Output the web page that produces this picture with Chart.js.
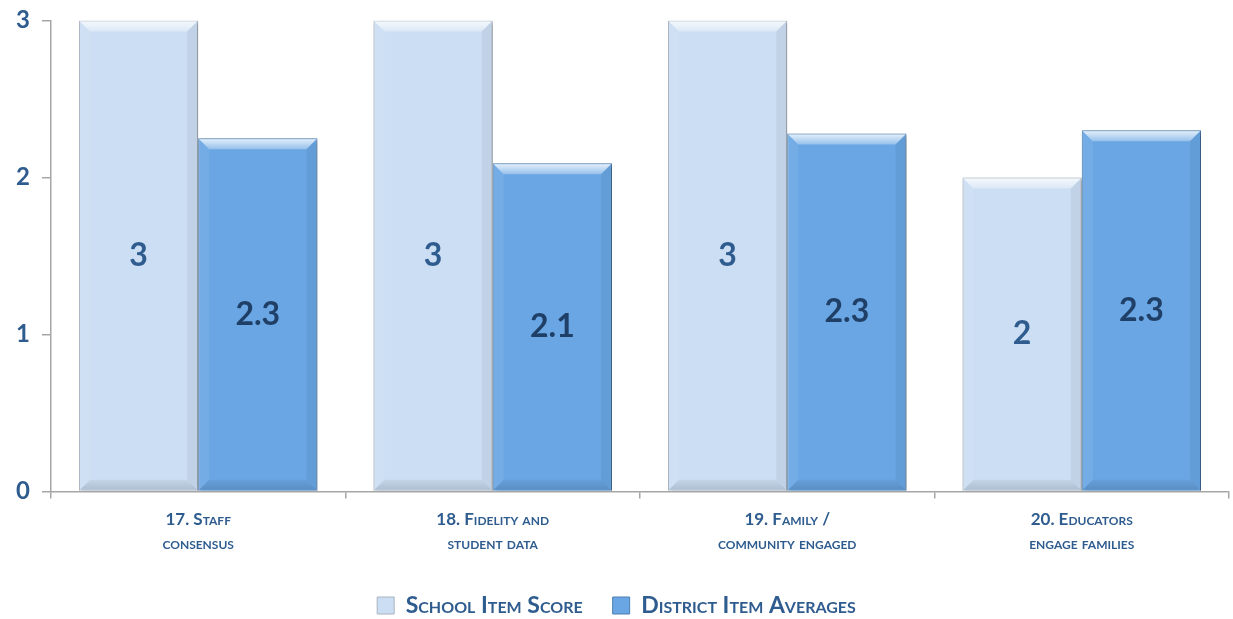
<html>
<head>
<style>
  body { margin: 0; background: #fff; }
  .chart-box { width: 1233px; height: 619px; }
</style>
</head>
<body>
<div class="chart-box">
  <canvas id="itemScores"></canvas>
</div>

<script src="https://cdn.jsdelivr.net/npm/chart.js"></script>
<script>
const categories = [
  ['17. Staff', 'consensus'],
  ['18. Fidelity and', 'student data'],
  ['19. Family /', 'community engaged'],
  ['20. Educators', 'engage families']
];
const schoolScores = [3, 3, 3, 2];
const districtAverages = [2.25, 2.09, 2.28, 2.3];
const yTicks = [0, 1, 2, 3];

const navy = '#2F5C8F';
const fontFamily = 'Lato, "Open Sans", sans-serif';

// value printed in the middle of every bar
const barLabels = {
  id: 'barLabels',
  afterDatasetsDraw(chart) {
    const ctx = chart.ctx;
    chart.data.datasets.forEach(function(ds, i) {
      chart.getDatasetMeta(i).data.forEach(function(bar, j) {
        const v = ds.data[j];
        ctx.save();
        ctx.font = 'bold 32px ' + fontFamily;
        ctx.fillStyle = ds.labelColor;
        ctx.textAlign = 'center';
        ctx.textBaseline = 'middle';
        ctx.fillText(Number.isInteger(v) ? String(v) : v.toFixed(1), bar.x, (bar.y + bar.base) / 2);
        ctx.restore();
      });
    });
  }
};

// shadow + bevel look of the bars
const bevel = {
  id: 'bevel',
  beforeDatasetsDraw(chart) {
    const ctx = chart.ctx;
    ctx.save();
    ctx.shadowColor = 'rgba(0,0,0,0.35)';
    ctx.shadowBlur = 4;
    ctx.shadowOffsetX = 2;
    ctx.shadowOffsetY = 2;
  },
  afterDatasetsDraw(chart) {
    const ctx = chart.ctx;
    ctx.restore();
    chart.data.datasets.forEach(function(ds, i) {
      chart.getDatasetMeta(i).data.forEach(function(bar) {
        const b = 10;
        const l = bar.x - bar.width / 2 + 1, r = bar.x + bar.width / 2 - 1;
        const t = bar.y + 1, btm = bar.base - 1;
        ctx.save();
        // top
        let g = ctx.createLinearGradient(0, t, 0, t + b);
        g.addColorStop(0, 'rgba(255,255,255,0.8)');
        g.addColorStop(1, 'rgba(255,255,255,0.3)');
        ctx.fillStyle = g;
        ctx.beginPath();
        ctx.moveTo(l, t); ctx.lineTo(r, t); ctx.lineTo(r - b, t + b); ctx.lineTo(l + b, t + b);
        ctx.closePath(); ctx.fill();
        // bottom
        g = ctx.createLinearGradient(0, btm - b, 0, btm);
        g.addColorStop(0, 'rgba(0,0,0,0.04)');
        g.addColorStop(1, 'rgba(0,0,0,0.14)');
        ctx.fillStyle = g;
        ctx.beginPath();
        ctx.moveTo(l, btm); ctx.lineTo(r, btm); ctx.lineTo(r - b, btm - b); ctx.lineTo(l + b, btm - b);
        ctx.closePath(); ctx.fill();
        // left side
        ctx.fillStyle = 'rgba(255,255,255,0.08)';
        ctx.beginPath();
        ctx.moveTo(l, t); ctx.lineTo(l + b, t + b); ctx.lineTo(l + b, btm - b); ctx.lineTo(l, btm);
        ctx.closePath(); ctx.fill();
        // right side
        ctx.fillStyle = 'rgba(0,0,0,0.05)';
        ctx.beginPath();
        ctx.moveTo(r, t); ctx.lineTo(r - b, t + b); ctx.lineTo(r - b, btm - b); ctx.lineTo(r, btm);
        ctx.closePath(); ctx.fill();
        ctx.restore();
      });
    });
  }
};

const ctx = document.getElementById('itemScores');

new Chart(ctx, {
  type: 'bar',
  data: {
    labels: categories,
    datasets: [{
      label: 'School Item Score',
      data: schoolScores,
      backgroundColor: '#CCDEF3',
      borderColor: '#A9B4C0',
      borderWidth: 1,
      labelColor: navy
    }, {
      label: 'District Item Averages',
      data: districtAverages,
      backgroundColor: '#69A6E3',
      borderColor: '#4F7FB0',
      borderWidth: 1,
      labelColor: '#1F3F66'
    }]
  },
  options: {
    responsive: true,
    maintainAspectRatio: false,
    animation: false,
    layout: { padding: { top: 0, right: 4, left: 4, bottom: -8 } },
    categoryPercentage: 0.81,
    barPercentage: 1.0,
    plugins: {
      tooltip: { enabled: false },
      legend: {
        position: 'bottom',
        labels: {
          color: navy,
          // small-caps slipped in front of the weight, style is validated by Chart.js
          font: { family: fontFamily, size: 23, weight: 'small-caps bold' },
          boxWidth: 17,
          boxHeight: 17,
          padding: 30
        }
      }
    },
    scales: {
      y: {
        min: 0,
        max: 3,
        afterBuildTicks(axis) { axis.ticks = yTicks.map(v => ({ value: v })); },
        border: { color: '#A6A6A6', width: 1.5 },
        grid: { drawOnChartArea: false, color: '#A6A6A6', tickLength: 9, lineWidth: 1.5 },
        ticks: {
          color: navy,
          padding: 12,
          font: { family: fontFamily, size: 24, weight: 'bold', lineHeight: 0.7 }
        }
      },
      x: {
        border: { color: '#A6A6A6', width: 1.5 },
        grid: { offset: true, drawOnChartArea: false, color: '#A6A6A6', tickLength: 7, lineWidth: 1.5 },
        ticks: {
          color: navy,
          padding: 9,
          maxRotation: 0,
          font: { family: fontFamily, size: 17, weight: 'small-caps bold', lineHeight: 1.4 }
        }
      }
    }
  },
  plugins: [bevel, barLabels]
});
</script>
</body>
</html>
